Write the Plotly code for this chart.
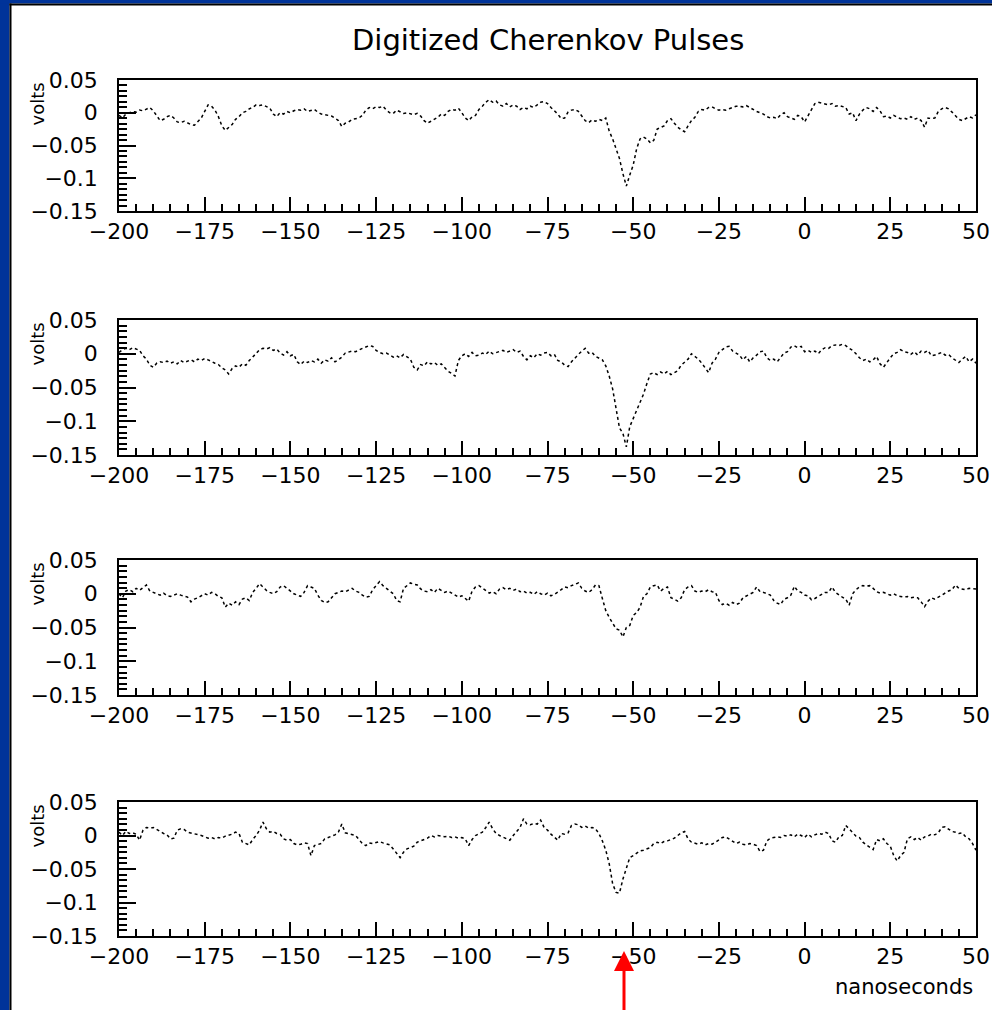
import plotly.graph_objects as go

W, H = 992, 1010

# sample times (ns)
times = list(range(-200, 51))

pulse1_mv = [
    -4, -8, -2, 0, 2, 1, 4, 3, 6, 8,
    3, -4, -12, -10, -6, -4, -8, -14, -15, -13,
    -16, -18, -19, -14, -8, 2, 12, 10, 4, -6,
    -20, -27, -22, -18, -10, -6, 0, 2, 6, 8,
    12, 11, 12, 9, 7, -2, -6, 0, -2, 2,
    0, 3, 5, 4, 6, 2, 4, 5, 1, -2,
    -3, -4, -5, -8, -12, -21, -16, -14, -10, -9,
    -8, -4, 4, 8, 6, 9, 8, 10, 4, 0,
    -1, 4, 2, -1, 0, -2, -3, -1, -5, -12,
    -16, -13, -10, -7, -2, -4, 2, 5, 4, 7,
    0, -8, -12, -6, -4, 5, 10, 16, 20, 16,
    18, 12, 10, 14, 9, 12, 10, 5, 8, 6,
    10, 8, 12, 16, 17, 14, 8, 3, -2, -9,
    -8, 1, 4, 5, 2, -5, -12, -15, -11, -13,
    -10, -12, -8, -28, -40, -55, -70, -93, -112, -95,
    -80, -55, -40, -37, -40, -46, -42, -25, -22, -20,
    -12, -9, -16, -22, -26, -29, -20, -12, -7, 2,
    5, 4, 8, 9, 6, 4, 5, 4, 6, 8,
    10, 10, 9, 11, 8, 4, 2, 0, -2, -6,
    -8, -7, -9, -3, 0, -6, -8, -10, -4, -6,
    -14, -4, 6, 14, 16, 15, 13, 12, 14, 10,
    11, 9, 8, -2, 0, -12, -2, 4, 8, 6,
    2, 8, 3, -6, -5, -8, -4, -7, -9, -8,
    -10, -6, -10, -8, -12, -22, -8, -9, -8, 2,
    6, 8, 6, 1, -4, -10, -12, -9, -6, -8,
    -3,
]

pulse2_mv = [
    2, 6, 8, 6, 9, 7, 5, -3, -8, -17,
    -20, -14, -12, -13, -11, -14, -12, -15, -10, -13,
    -11, -9, -12, -8, -10, -7, -9, -12, -14, -16,
    -21, -24, -30, -22, -18, -20, -15, -17, -10, -5,
    0, 6, 8, 7, 9, 5, 7, 1, -2, 3,
    -3, -1, -12, -16, -11, -13, -10, -12, -8, -14,
    -9, -11, -6, -12, -9, -5, 1, 2, 4, 3,
    6, 8, 10, 12, 11, 5, 2, 0, 1, -2,
    -5, -3, -6, -1, -4, -8, -20, -24, -16, -18,
    -12, -15, -13, -17, -15, -20, -26, -29, -33, -10,
    -3, 0, -4, 2, -3, -2, 1, -1, 4, 0,
    2, 3, 5, 2, 4, 6, 2, 4, -4, -9,
    -3, -6, 0, -2, 1, 2, -3, -1, -10, -12,
    -17, -19, -12, -6, -1, 4, 8, 1, 2, -4,
    -6, -9, -18, -33, -52, -80, -110, -118, -138, -108,
    -96, -83, -70, -60, -44, -30, -28, -31, -27, -30,
    -26, -31, -28, -25, -17, -12, -8, 0, -4, -8,
    -14, -22, -28, -14, -8, 2, 6, 10, 11, 4,
    1, -2, -9, -4, -12, -6, -2, 3, 4, -6,
    -10, -8, -12, -5, 1, 3, 10, 12, 9, 11,
    3, 5, 2, 4, 0, 6, 9, 8, 12, 13,
    12, 14, 12, 8, 5, 0, -6, -10, -8, -12,
    -9, -4, -15, -20, -12, -6, 0, 2, 6, 3,
    2, -1, 3, -2, 4, 2, 5, -3, -2, 0,
    2, -2, -1, -6, -10, -13, -8, -4, -12, -8,
    -14,
]

pulse3_mv = [
    0, -6, 4, 6, 3, 8, 5, 9, 13, 4,
    2, 0, -2, 1, -3, -4, -2, 0, -2, -3,
    -5, -12, -8, -6, -3, 0, -2, 2, 0, -4,
    -6, -20, -14, -17, -12, -16, -8, -6, -10, 2,
    8, 15, 10, 5, 2, 0, 3, 10, 12, 8,
    3, 0, -2, -4, 2, 12, 10, 8, -2, -10,
    -13, -12, -6, 0, 2, 4, 3, 6, 8, 4,
    2, -2, -5, -4, 6, 12, 18, 12, 8, 3,
    0, -10, -12, 8, 12, 16, 14, 13, 7, 4,
    3, 6, 2, 8, 5, 2, 4, 1, -2, -5,
    -3, -7, -11, 4, 10, 12, 8, 4, 1, 3,
    0, 7, 9, 6, 8, 5, 7, 3, 4, 1,
    2, -1, 3, 0, -2, 1, -3, -1, 2, 6,
    10, 9, 12, 14, 16, 8, 4, 2, 6, 13,
    12, -7, -25, -35, -44, -52, -54, -64, -50, -47,
    -32, -28, -20, -4, 0, 10, 12, 13, 4, 8,
    10, -6, -8, -11, -6, 6, 10, 12, 4, 2,
    4, 3, 6, 3, 2, -10, -16, -14, -17, -13,
    -16, -14, -6, -3, 0, 2, 10, 3, 2, 0,
    -2, -10, -14, -16, -8, -6, -2, 11, 4, 2,
    -2, -3, -9, -7, -4, 0, 2, 2, 10, 2,
    -2, -5, -8, -17, 0, 6, 10, 12, 11, 12,
    8, 3, 1, 2, 0, -2, 0, -3, -4, -5,
    -4, -6, -5, -6, -12, -19, -11, -6, -8, -5,
    -2, 2, 4, 6, 13, 8, 7, 6, 8, 7,
    7,
]

pulse4_mv = [
    5, 0, 6, 3, 4, 2, -7, 8, 12, 11,
    12, 9, 5, 3, 1, -5, -4, 8, 10, 9,
    5, 4, 3, 2, 0, -2, -4, -3, -5, -3,
    -4, -1, 0, 2, 5, 3, -10, -12, -14, -6,
    0, 8, 20, 10, 5, 6, 3, 2, -5, -7,
    -6, -12, -14, -13, -11, -12, -30, -15, -13, -12,
    -5, -3, 0, 1, 5, 17, 4, 3, 2, 0,
    -6, -12, -15, -11, -12, -10, -9, -11, -12, -14,
    -20, -26, -33, -25, -20, -18, -16, -10, -8, -5,
    -4, 0, -2, 0, -1, -2, -1, -3, -2, -4,
    -3, -5, -15, -6, 0, 2, 5, 12, 20, 10,
    3, 0, -2, -5, -7, 0, 6, 12, 25, 17,
    16, 18, 17, 23, 12, 8, 2, -2, -7, 3,
    2, 4, 15, 17, 16, 12, 14, 11, 12, 10,
    3, -8, -22, -42, -72, -85, -86, -65, -48, -33,
    -30, -27, -23, -22, -20, -18, -12, -10, -12, -9,
    -8, -6, -4, 0, 4, 6, -5, -10, -12, -13,
    -11, -14, -12, -13, -10, -6, -3, -2, -5, -8,
    -12, -10, -13, -14, -12, -13, -15, -24, -22, -8,
    -4, -3, -2, -3, 0, -1, 1, -2, 2, 0,
    -3, 2, -2, 1, 3, 2, 5, 3, -8, -10,
    -2, 0, 15, 10, 4, -1, -3, -10, -14, -18,
    -21, -6, -8, -5, -12, -16, -30, -38, -30, -25,
    -5, -2, -6, -3, -7, -2, -1, 2, 1, 4,
    12, 13, 10, 6, 5, 3, 4, -2, -5, -12,
    -22,
]

pulses = [pulse1_mv, pulse2_mv, pulse3_mv, pulse4_mv]

x_range = [-200, 50]
y_range = [-0.15, 0.05]

title_text = "Digitized Cherenkov Pulses"
y_title = "volts"
x_title = "nanoseconds"

# layout geometry (pixels)
plot_left, plot_right = 119, 976
panel_px = [(80, 211), (320, 455), (560, 695), (802, 936)]

FONT = "DejaVu Sans"
BLUE = "rgb(0,51,153)"


def px_x(p):
    return p / W


def px_y(p):
    return 1 - p / H


fig = go.Figure()
layout = {}
annotations = []
for i, mv in enumerate(pulses):
    n = "" if i == 0 else str(i + 1)
    fig.add_trace(go.Scatter(
        x=times, y=[v / 1000 for v in mv], mode="lines",
        line=dict(color="black", width=1.5, dash="dot"),
        xaxis="x" + n, yaxis="y" + n, showlegend=False, hoverinfo="skip"))
    top, bot = panel_px[i]
    layout["xaxis" + n] = dict(
        domain=[px_x(plot_left), px_x(plot_right)], range=x_range,
        anchor="y" + n, tickmode="linear", tick0=-200, dtick=25,
        ticks="inside", ticklen=14, tickwidth=1.5, tickcolor="black",
        minor=dict(ticks="inside", ticklen=7, tickwidth=1.5, tickcolor="black",
                   tick0=-200, dtick=5, showgrid=False),
        showline=True, mirror=True, linecolor="black", linewidth=1.5,
        showgrid=False, zeroline=False, fixedrange=True, automargin=False,
        tickfont=dict(family=FONT, size=22, color="black"))
    layout["yaxis" + n] = dict(
        domain=[px_y(bot), px_y(top)], range=y_range,
        anchor="x" + n, tickmode="linear", tick0=-0.15, dtick=0.05,
        ticks="inside", ticklen=17, tickwidth=1.5, tickcolor="black",
        minor=dict(ticks="inside", ticklen=8, tickwidth=1.5, tickcolor="black",
                   tick0=-0.15, dtick=0.05 / 6, showgrid=False),
        showline=True, mirror=True, linecolor="black", linewidth=1.5,
        showgrid=False, zeroline=False, fixedrange=True, automargin=False,
        ticklabelstandoff=15,
        tickfont=dict(family=FONT, size=22, color="black"))
    annotations.append(dict(
        text=y_title, textangle=-90, xref="paper", yref="paper",
        x=px_x(37), y=px_y(top + 1), xanchor="center", yanchor="top",
        showarrow=False, font=dict(family=FONT, size=18, color="black")))

annotations.append(dict(
    text=title_text, xref="paper", yref="paper", x=px_x(548), y=px_y(40),
    xanchor="center", yanchor="middle", showarrow=False,
    font=dict(family=FONT, size=29, color="black")))
annotations.append(dict(
    text=x_title, xref="paper", yref="paper", x=px_x(975), y=px_y(987),
    xanchor="right", yanchor="middle", showarrow=False,
    font=dict(family=FONT, size=21, color="black")))

shapes = [
    # window frame
    dict(type="rect", xref="paper", yref="paper", x0=0, x1=px_x(9.5), y0=0, y1=1,
         fillcolor=BLUE, line=dict(width=0), layer="above"),
    dict(type="rect", xref="paper", yref="paper", x0=0, x1=1, y0=px_y(3.5), y1=1,
         fillcolor=BLUE, line=dict(width=0), layer="above"),
    dict(type="rect", xref="paper", yref="paper", x0=px_x(9.5), x1=px_x(11.5),
         y0=0, y1=px_y(3.5), fillcolor="black", line=dict(width=0), layer="above"),
    dict(type="rect", xref="paper", yref="paper", x0=px_x(9.5), x1=1,
         y0=px_y(5.5), y1=px_y(3.5), fillcolor="black", line=dict(width=0), layer="above"),
    # red arrow
    dict(type="line", xref="paper", yref="paper", x0=px_x(624), x1=px_x(624),
         y0=px_y(1010), y1=px_y(970), line=dict(color="red", width=3)),
    dict(type="path", xref="paper", yref="paper",
         path=f"M {px_x(614)},{px_y(971)} L {px_x(634)},{px_y(971)} L {px_x(624)},{px_y(951)} Z",
         fillcolor="red", line=dict(color="red", width=0)),
]

fig.update_layout(
    width=W, height=H, margin=dict(l=0, r=0, t=0, b=0, pad=0, autoexpand=False),
    paper_bgcolor="white", plot_bgcolor="white", showlegend=False,
    annotations=annotations, shapes=shapes, **layout)

fig.write_html("out.html")
